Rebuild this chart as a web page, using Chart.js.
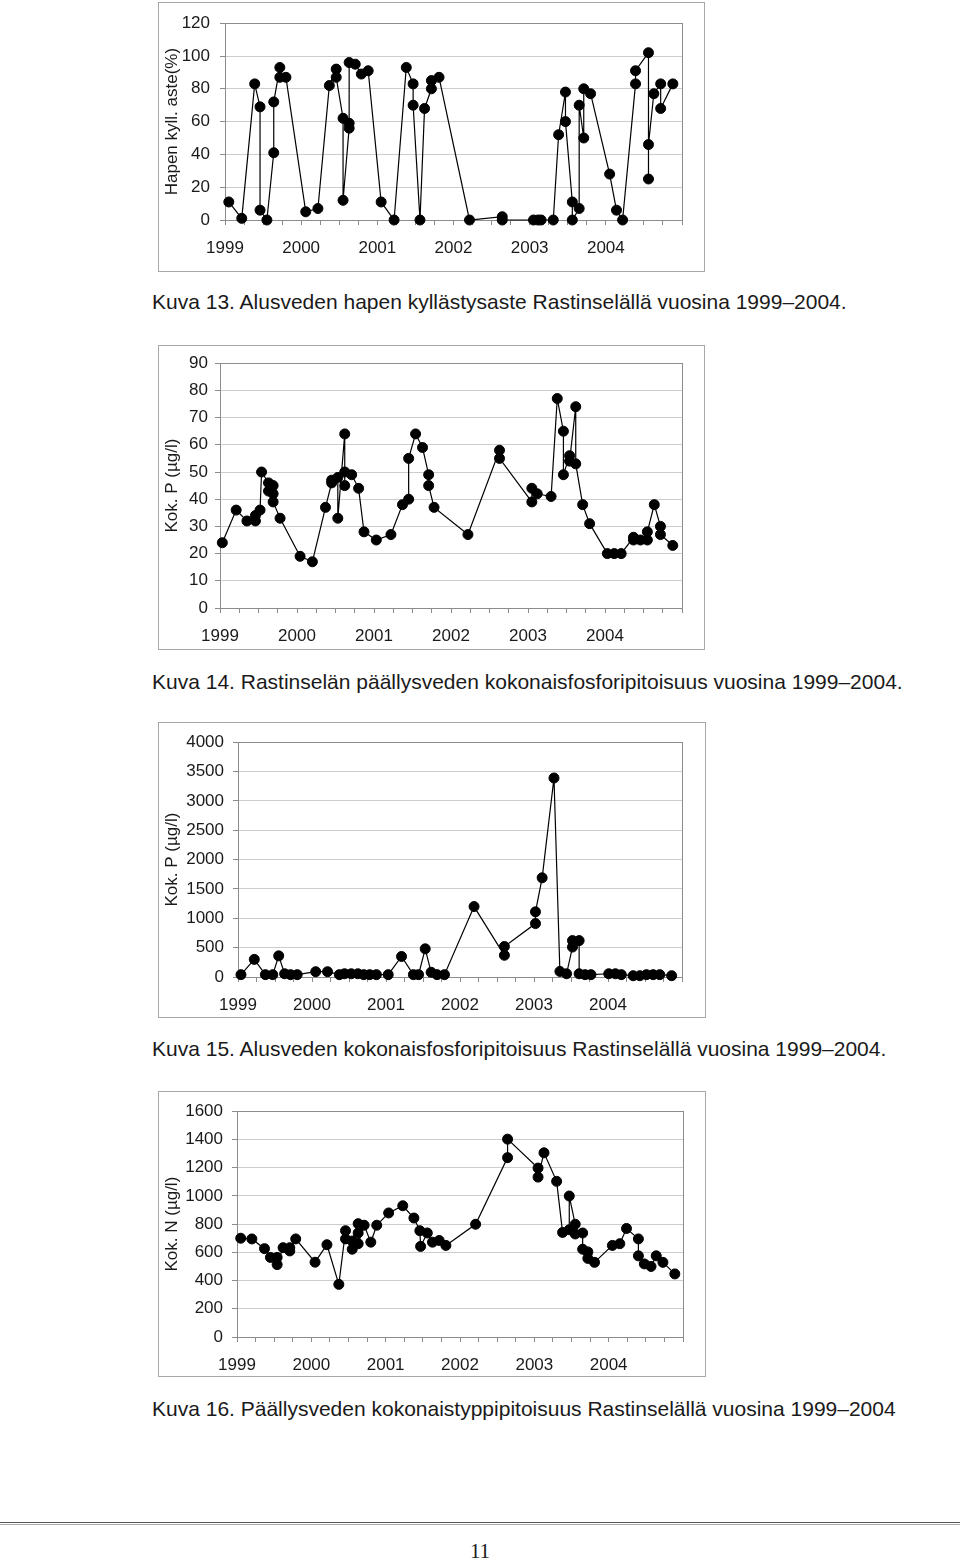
<!DOCTYPE html>
<html>
<head>
<meta charset="utf-8">
<script src="https://cdn.jsdelivr.net/npm/chart.js@4.4.1/dist/chart.umd.min.js"></script>
<style>
  body { margin: 0; width: 960px; height: 1561px; position: relative; background: #fff; font-family: "Liberation Sans", Arial, sans-serif; color: #1a1a1a; overflow: hidden; }
  .box { position: absolute; border: 1px solid #a8a8a8; box-sizing: border-box; background: #fff; }
  .box canvas { display: block; }
  .caption { position: absolute; left: 152px; font-size: 21px; line-height: 21px; white-space: nowrap; }
  .rule { position: absolute; left: 0; top: 1522px; width: 960px; height: 1px; border-top: 1px solid #555; border-bottom: 1px solid #aaa; }
  .pageno { position: absolute; left: 0; width: 960px; top: 1540px; text-align: center; font-family: "Liberation Serif", "DejaVu Serif", serif; font-size: 21px; line-height: 22px; }
</style>
</head>
<body>

<div class="box" style="left:158px;top:2px;width:547px;height:270px"><canvas id="kuva13" width="545" height="268"></canvas></div>
<div class="caption" style="top:291px">Kuva 13. Alusveden hapen kyllästysaste Rastinselällä vuosina 1999–2004.</div>

<div class="box" style="left:158px;top:345px;width:547px;height:305px"><canvas id="kuva14" width="545" height="303"></canvas></div>
<div class="caption" style="top:671px">Kuva 14. Rastinselän päällysveden kokonaisfosforipitoisuus vuosina 1999–2004.</div>

<div class="box" style="left:158px;top:722px;width:548px;height:296px"><canvas id="kuva15" width="546" height="294"></canvas></div>
<div class="caption" style="top:1038px">Kuva 15. Alusveden kokonaisfosforipitoisuus Rastinselällä vuosina 1999–2004.</div>

<div class="box" style="left:158px;top:1091px;width:548px;height:286px"><canvas id="kuva16" width="546" height="284"></canvas></div>
<div class="caption" style="top:1398px">Kuva 16. Päällysveden kokonaistyppipitoisuus Rastinselällä vuosina 1999–2004</div>

<div class="rule"></div>
<div class="pageno">11</div>

<script>
// sampling dates as decimal years
const yearLabels = ['1999', '2000', '2001', '2002', '2003', '2004'];

// Kuva 13: hapen kyllästysaste (%)
const o2Dates = [1999.05, 1999.22, 1999.39, 1999.46, 1999.46, 1999.55, 1999.64, 1999.64, 1999.72, 1999.72, 1999.80,
  2000.06, 2000.22, 2000.37, 2000.46, 2000.46, 2000.55, 2000.55, 2000.63, 2000.63, 2000.63, 2000.71, 2000.79, 2000.88,
  2001.05, 2001.22, 2001.38, 2001.47, 2001.47, 2001.56, 2001.62, 2001.71, 2001.71, 2001.81,
  2002.21, 2002.64, 2002.64,
  2003.05, 2003.11, 2003.15, 2003.31, 2003.38, 2003.47, 2003.47, 2003.56, 2003.56, 2003.65, 2003.65, 2003.71, 2003.71, 2003.80,
  2004.05, 2004.14, 2004.22, 2004.39, 2004.39, 2004.56, 2004.56, 2004.56, 2004.63, 2004.72, 2004.72, 2004.88];
const o2Values = [11, 1, 83, 69, 6, 0, 41, 72, 93, 87, 87,
  5, 7, 82, 92, 87, 62, 12, 56, 59, 96, 95, 89, 91,
  11, 0, 93, 83, 70, 0, 68, 80, 85, 87,
  0, 2, 0,
  0, 0, 0, 0, 52, 78, 60, 11, 0, 7, 70, 50, 80, 77,
  28, 6, 0, 83, 91, 102, 25, 46, 77, 83, 68, 83];

// Kuva 14: päällysveden kok. P (µg/l)
const surfacePDates = [1999.03, 1999.21, 1999.35, 1999.46, 1999.46, 1999.52, 1999.54, 1999.63, 1999.63, 1999.69, 1999.69, 1999.69, 1999.78,
  2000.04, 2000.20, 2000.37, 2000.45, 2000.45, 2000.53, 2000.53, 2000.62, 2000.62, 2000.62, 2000.71, 2000.80, 2000.87,
  2001.03, 2001.22, 2001.37, 2001.45, 2001.45, 2001.54, 2001.63, 2001.71, 2001.71, 2001.78,
  2002.22, 2002.63, 2002.63,
  2003.05, 2003.05, 2003.12, 2003.30, 2003.38, 2003.46, 2003.46, 2003.54, 2003.54, 2003.62, 2003.62, 2003.71, 2003.80,
  2004.03, 2004.12, 2004.21, 2004.37, 2004.37, 2004.46, 2004.55, 2004.55, 2004.64, 2004.72, 2004.72, 2004.88];
const surfacePValues = [24, 36, 32, 32, 34, 36, 50, 46, 43, 45, 42, 39, 33,
  19, 17, 37, 46, 47, 48, 33, 64, 45, 50, 49, 44, 28,
  25, 27, 38, 40, 55, 64, 59, 49, 45, 37,
  27, 58, 55,
  39, 44, 42, 41, 77, 65, 49, 56, 54, 74, 53, 38, 31,
  20, 20, 20, 26, 25, 25, 25, 28, 38, 30, 27, 23];

// Kuva 15: alusveden kok. P (µg/l)
const bottomPDates = [1999.04, 1999.22, 1999.37, 1999.47, 1999.55, 1999.63, 1999.71, 1999.80,
  2000.05, 2000.21, 2000.37, 2000.44, 2000.53, 2000.62, 2000.70, 2000.78, 2000.87,
  2001.03, 2001.21, 2001.37, 2001.44, 2001.53, 2001.61, 2001.69, 2001.79,
  2002.19, 2002.60, 2002.60,
  2003.02, 2003.02, 2003.11, 2003.27, 2003.35, 2003.44, 2003.52, 2003.52, 2003.61, 2003.61, 2003.69, 2003.77,
  2004.01, 2004.10, 2004.18, 2004.34, 2004.43, 2004.52, 2004.61, 2004.70, 2004.86];
const bottomPValues = [40, 300, 40, 40, 360, 55, 40, 40,
  90, 90, 40, 55, 55, 55, 40, 40, 40,
  40, 350, 40, 40, 480, 80, 40, 40,
  1200, 370, 520,
  910, 1110, 1690, 3390, 95, 55, 510, 620, 620, 55, 40, 40,
  55, 55, 40, 22, 22, 40, 40, 40, 22];

// Kuva 16: päällysveden kok. N (µg/l)
const surfaceNDates = [1999.05, 1999.20, 1999.37, 1999.45, 1999.54, 1999.54, 1999.62, 1999.71, 1999.71, 1999.79,
  2000.05, 2000.21, 2000.37, 2000.46, 2000.46, 2000.55, 2000.55, 2000.63, 2000.63, 2000.63, 2000.71, 2000.80, 2000.88,
  2001.04, 2001.23, 2001.38, 2001.46, 2001.47, 2001.56, 2001.63, 2001.72, 2001.81,
  2002.21, 2002.64, 2002.64,
  2003.05, 2003.05, 2003.13, 2003.30, 2003.38, 2003.47, 2003.47, 2003.55, 2003.55, 2003.65, 2003.65, 2003.72, 2003.72, 2003.81,
  2004.05, 2004.15, 2004.24, 2004.40, 2004.40, 2004.48, 2004.57, 2004.64, 2004.73, 2004.89];
const surfaceNValues = [700, 695, 626, 564, 564, 513, 633, 633, 610, 695,
  530, 654, 373, 753, 695, 622, 680, 803, 737, 661, 792, 672, 792,
  879, 930, 843, 753, 642, 737, 672, 684, 649,
  799, 1271, 1402,
  1197, 1133, 1305, 1103, 741, 760, 999, 799, 730, 737, 622, 603, 557, 529,
  649, 661, 769, 695, 575, 518, 500, 575, 529, 447];

Chart.defaults.font.family = '"Liberation Sans", Arial, sans-serif';
Chart.defaults.color = '#1a1a1a';

// grey frame round the plot area
const plotFrame = {
  id: 'plotFrame',
  beforeDatasetsDraw(chart) {
    const { ctx, chartArea: a } = chart;
    ctx.save();
    ctx.strokeStyle = '#8c8c8c';
    ctx.lineWidth = 1;
    ctx.strokeRect(Math.round(a.left) + 0.5, Math.round(a.top) + 0.5, Math.round(a.right - a.left), Math.round(a.bottom - a.top));
    ctx.restore();
  }
};

function drawChart(id, dates, values, opts) {
  const canvas = document.getElementById(id);
  const points = dates.map((d, i) => ({ x: d, y: values[i] }));
  return new Chart(canvas, {
    type: 'scatter',
    data: {
      datasets: [{
        data: points,
        showLine: true,
        borderColor: '#000',
        borderWidth: 1.2,
        pointRadius: 5,
        pointBackgroundColor: '#000',
        pointBorderColor: '#000',
        pointBorderWidth: 1,
        clip: false
      }]
    },
    options: {
      responsive: false,
      animation: false,
      events: [],
      layout: { padding: { left: 0, top: opts.top, right: canvas.width - opts.right, bottom: 0 } },
      plugins: { legend: { display: false }, tooltip: { enabled: false } },
      scales: {
        x: {
          type: 'linear',
          min: 1999,
          max: 2005,
          afterFit: (s) => { s.height = canvas.height - opts.bottom; },
          ticks: {
            stepSize: 0.25,
            autoSkip: false,
            maxRotation: 0,
            minRotation: 0,
            padding: 13,
            font: { size: 17 },
            callback: (v) => yearLabels.includes(String(v)) ? String(v) : ''
          },
          grid: { drawOnChartArea: false, tickLength: 5, color: '#8c8c8c' },
          border: { color: '#8c8c8c' }
        },
        y: {
          min: 0,
          max: opts.max,
          afterFit: (s) => { s.width = opts.left; },
          ticks: { stepSize: opts.step, padding: opts.tickPad, font: { size: 17 }, callback: (v) => String(v) },
          grid: { color: '#cdcdcd', tickColor: '#8c8c8c', tickLength: 5 },
          border: { color: '#8c8c8c' },
          title: { display: true, text: opts.title, font: { size: 17 }, padding: { top: 3, bottom: 0 } }
        }
      }
    },
    plugins: [plotFrame]
  });
}

drawChart('kuva13', o2Dates, o2Values, { left: 66, right: 523, top: 12, bottom: 217, max: 120, step: 20, tickPad: 10, title: 'Hapen kyll. aste(%)' });
drawChart('kuva14', surfacePDates, surfacePValues, { left: 61, right: 523, top: 14, bottom: 262, max: 90, step: 10, tickPad: 7, title: 'Kok. P (µg/l)' });
drawChart('kuva15', bottomPDates, bottomPValues, { left: 79, right: 523, top: 14, bottom: 254, max: 4000, step: 500, tickPad: 9, title: 'Kok. P (µg/l)' });
drawChart('kuva16', surfaceNDates, surfaceNValues, { left: 78, right: 524, top: 14, bottom: 245, max: 1600, step: 200, tickPad: 9, title: 'Kok. N (µg/l)' });
</script>
</body>
</html>
